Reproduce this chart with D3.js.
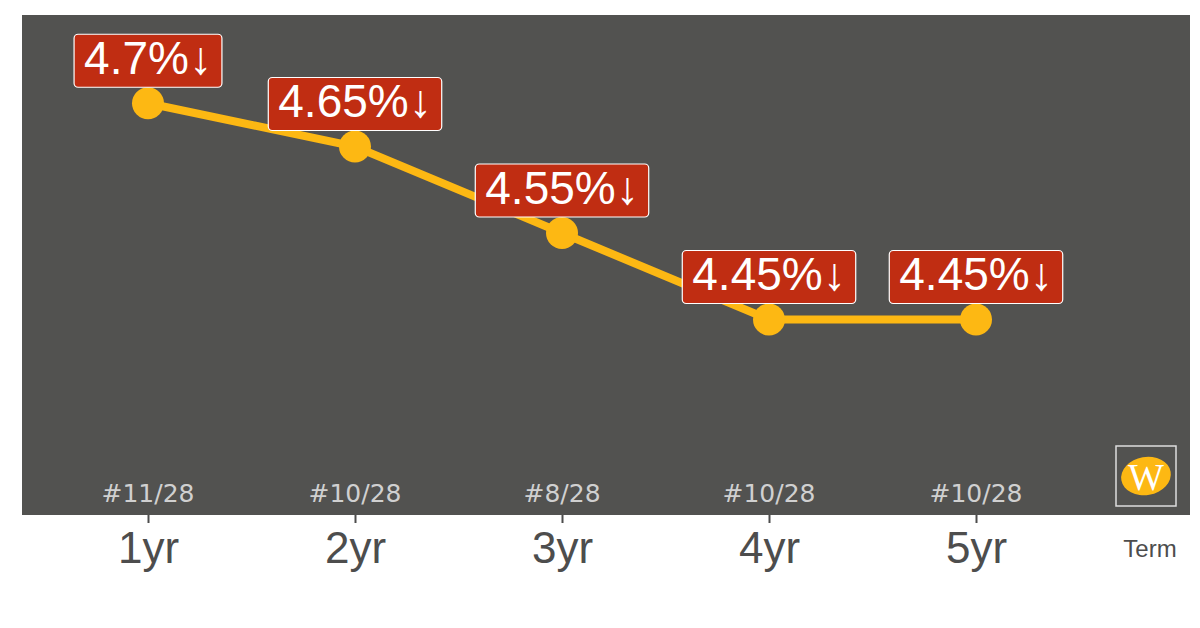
<!DOCTYPE html>
<html><head><meta charset="utf-8">
<script src="https://cdn.jsdelivr.net/npm/d3@7"></script>
<style>body{margin:0;background:#fff}</style>
</head><body><div id="chart"></div>
<script>
var terms = ["1yr", "2yr", "3yr", "4yr", "5yr"]
var rates = [4.7, 4.65, 4.55, 4.45, 4.45]
var rateLabels = ["4.7%↓", "4.65%↓", "4.55%↓", "4.45%↓", "4.45%↓"]
var ranks = ["#11/28", "#10/28", "#8/28", "#10/28", "#10/28"]

var width = 1200, height = 628
var svg = d3.select("#chart").append("svg").attr("width", width).attr("height", height)
  .style("font-family", "Liberation Sans, Arial, sans-serif")

// panel
var pLeft = 22, pRight = 1190, pTop = 15, pBottom = 515
svg.append("rect").attr("x", pLeft).attr("y", pTop).attr("width", pRight - pLeft).attr("height", pBottom - pTop).attr("fill", "#525250")

var x = d3.scalePoint().domain(terms).range([148, 976])
var y = d3.scaleLinear().domain([4.224, 4.802]).range([pBottom, pTop])

var xAxis = svg.append("g").attr("transform", "translate(0," + pBottom + ")")
  .call(d3.axisBottom(x).tickSize(8).tickPadding(9))
xAxis.select(".domain").remove()
xAxis.selectAll("line").attr("stroke", "#4d4d4d").attr("stroke-width", 2)
xAxis.selectAll("text").attr("fill", "#4d4d4d").style("font-size", "44px")
  .style("font-family", "Liberation Sans, Arial, sans-serif")

svg.append("text").attr("x", 1150).attr("y", 557).attr("text-anchor", "middle")
  .attr("fill", "#4d4d4d").style("font-size", "24px").text("Term")

var data = terms.map(function (t, i) { return { t: t, v: rates[i], lab: rateLabels[i], rank: ranks[i] } })

svg.append("path").datum(data)
  .attr("d", d3.line().x(function (d) { return x(d.t) }).y(function (d) { return y(d.v) }))
  .attr("fill", "none").attr("stroke", "#FDB813").attr("stroke-width", 8)

svg.selectAll(".pt").data(data).enter().append("circle")
  .attr("cx", function (d) { return x(d.t) }).attr("cy", function (d) { return y(d.v) })
  .attr("r", 16).attr("fill", "#FDB813")

svg.selectAll(".rank").data(data).enter().append("text")
  .attr("x", function (d) { return x(d.t) }).attr("y", 502).attr("text-anchor", "middle")
  .attr("fill", "#d0d0d0").style("font-size", "25px").style("font-family", "DejaVu Sans, sans-serif")
  .text(function (d) { return d.rank })

// labels
var lg = svg.selectAll(".lab").data(data).enter().append("g")
lg.append("text")
  .attr("x", function (d) { return x(d.t) }).attr("y", function (d) { return y(d.v) - 29 })
  .attr("text-anchor", "middle").attr("fill", "#fff").style("font-size", "46px")
  .style("font-family", "Liberation Sans, Arial, sans-serif")
  .text(function (d) { return d.lab })
lg.each(function () {
  var g = d3.select(this), b = g.select("text").node().getBBox()
  g.insert("rect", "text").attr("x", b.x - 10).attr("y", b.y + 2).attr("width", b.width + 20).attr("height", b.height + 1)
    .attr("rx", 4).attr("fill", "#C02D12").attr("stroke", "#fff").attr("stroke-width", 1.2)
})

// logo
svg.append("rect").attr("x", 1116).attr("y", 446).attr("width", 60).attr("height", 60)
  .attr("fill", "none").attr("stroke", "#ddd").attr("stroke-width", 1.5)
svg.append("ellipse").attr("cx", 1146).attr("cy", 476).attr("rx", 25).attr("ry", 19)
  .attr("fill", "#FDB813").attr("transform", "rotate(-10,1146,476)")
svg.append("text").attr("x", 1146).attr("y", 490).attr("text-anchor", "middle").attr("fill", "#fff")
  .style("font-size", "38px").style("font-family", "Liberation Serif, serif").text("W")
</script></body></html>
